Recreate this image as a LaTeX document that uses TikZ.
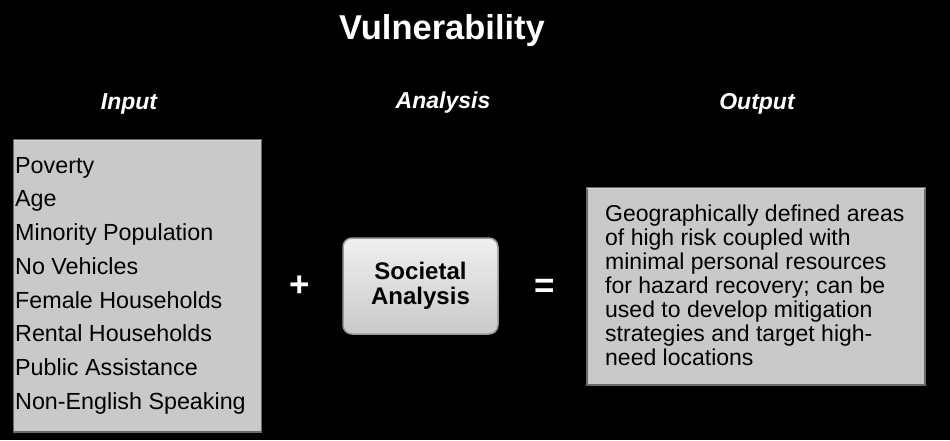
\documentclass[tikz,border=0pt]{standalone}
\usepackage{fontspec}
\setmainfont{Liberation Sans}
\definecolor{boxgray}{HTML}{C9C9C9}
\definecolor{edgegray}{HTML}{6A6A6A}
\tikzset{
  sqbox/.style={draw=edgegray, line width=1.5pt, fill=boxgray, inner sep=0pt},
  rbox/.style={draw=edgegray!70, line width=1.5pt, rounded corners=9pt, top color=gray!12, bottom color=gray!42, inner sep=0pt},
  head/.style={text=white, font=\fontsize{23}{27}\selectfont\bfseries\itshape},
  sym/.style={text=white, font=\fontsize{35}{40}\selectfont\bfseries},
  listtxt/.style={text=black, align=left, inner sep=0pt, font=\fontsize{23.3}{33.7}\selectfont},
}
\begin{document}
\begin{tikzpicture}[x=1pt,y=-1pt]
\fill[black] (0,0) rectangle (950,440);
\useasboundingbox (0,0) rectangle (950,440);
\node[text=white, font=\fontsize{34.5}{38}\selectfont\bfseries] (title) at (442,31) {Vulnerability};
\node[head] (hin) at (129,104) {Input};
\node[head] (han) at (443,103) {Analysis};
\node[head] (hout) at (757,104) {Output};
% input box
\node[sqbox, minimum width=248pt, minimum height=292pt] (input) at (137.5,286) {};
\draw[white!85!black, line width=1.2pt] ([xshift=1pt,yshift=-1.5pt]input.north west) -- ([xshift=-1pt,yshift=-1.5pt]input.north east);
\node[listtxt, anchor=north west] (list) at (15,157) {Poverty\\Age\\Minority Population\\No Vehicles\\Female Households\\Rental Households\\Public Assistance\\Non-English Speaking};
% analysis box
\node[rbox, minimum width=155pt, minimum height=96pt, align=center, font=\fontsize{24}{24.5}\selectfont\bfseries] (soc) at (420.5,286) {Societal\\Analysis};
% output box
\node[sqbox, minimum width=338pt, minimum height=197pt] (output) at (756,286.5) {};
\draw[white!85!black, line width=1.2pt] ([xshift=1pt,yshift=-1.5pt]output.north west) -- ([xshift=-1pt,yshift=-1.5pt]output.north east);
\node[anchor=north west, align=left, inner sep=0pt, font=\fontsize{23}{24}\selectfont] (outtxt) at (605,205) {Geographically defined areas\\of high risk coupled with\\minimal personal resources\\for hazard recovery; can be\\used to develop mitigation\\strategies and target high-\\need locations};
\node[sym] (plus) at (300,286) {+};
\node[sym] (eq) at (545,288) {=};
\end{tikzpicture}
\end{document}
